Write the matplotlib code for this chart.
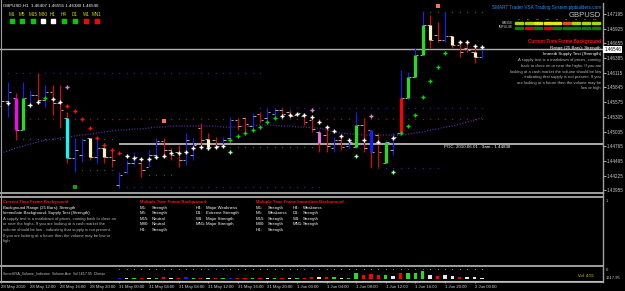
import numpy as np
import matplotlib.pyplot as plt
from matplotlib.patches import Rectangle

plt.rcParams['font.family'] = ['Liberation Sans', 'DejaVu Sans']

# ---- price data (GBPUSD H1, 28 May 08:00 .. 2 Jun 01:00) ----
opens = [1.45503, 1.45595, 1.45650, 1.45063, 1.45522, 1.45705, 1.45614, 1.45761, 1.45559, 1.45283,
         1.44548, 1.44603, 1.44916, 1.44567, 1.44732, 1.44567, 1.44052, 1.44291, 1.44456, 1.44456,
         1.44383, 1.44603, 1.44861, 1.44695, 1.44658, 1.44512, 1.44603, 1.45099, 1.44897, 1.44879,
         1.44805, 1.44916, 1.45246, 1.45283, 1.45136, 1.45356, 1.45283, 1.45356, 1.45430, 1.45393,
         1.45338, 1.45320, 1.45246, 1.45026, 1.44971, 1.44732, 1.44879, 1.44769, 1.44750, 1.45154,
         1.45063, 1.44971, 1.44456, 1.44695, 1.45008, 1.45650, 1.46036, 1.46440, 1.46991, 1.46807,
         1.46716, 1.46789, 1.46624, 1.46569, 1.46495, 1.46407]
highs = [1.45614, 1.45944, 1.45742, 1.45944, 1.45797, 1.46110, 1.45889, 1.45889, 1.45889, 1.45393,
         1.44916, 1.44916, 1.44916, 1.44916, 1.44824, 1.44732, 1.44291, 1.44512, 1.44658, 1.44475,
         1.44695, 1.44916, 1.44916, 1.44732, 1.44787, 1.45008, 1.44916, 1.45191, 1.45008, 1.44934,
         1.44934, 1.45301, 1.45283, 1.45301, 1.45375, 1.45393, 1.45467, 1.45467, 1.45467, 1.45430,
         1.45375, 1.45338, 1.45301, 1.45063, 1.45099, 1.44934, 1.44934, 1.44879, 1.45393, 1.45283,
         1.45063, 1.45008, 1.44879, 1.45008, 1.46165, 1.46128, 1.46569, 1.47230, 1.47175, 1.47046,
         1.47230, 1.46789, 1.46679, 1.46679, 1.46587, 1.46555]
lows = [1.45485, 1.45301, 1.44879, 1.45063, 1.45467, 1.45577, 1.45485, 1.45338, 1.45099, 1.44456,
        1.44291, 1.44475, 1.44512, 1.44456, 1.44456, 1.44383, 1.43997, 1.44273, 1.44420, 1.44199,
        1.44383, 1.44548, 1.44567, 1.44512, 1.44383, 1.44420, 1.44512, 1.44787, 1.44695, 1.44732,
        1.44787, 1.44879, 1.45063, 1.45008, 1.45063, 1.45191, 1.45246, 1.45301, 1.45301, 1.45283,
        1.45338, 1.45154, 1.45026, 1.44658, 1.44658, 1.44658, 1.44695, 1.44732, 1.44732, 1.44658,
        1.44365, 1.44383, 1.44456, 1.44603, 1.45008, 1.45614, 1.46036, 1.46440, 1.46569, 1.46679,
        1.46679, 1.46569, 1.46403, 1.46495, 1.46293, 1.46380]
closes = [1.45595, 1.45761, 1.45063, 1.45650, 1.45705, 1.45614, 1.45761, 1.45559, 1.45430, 1.44548,
          1.44695, 1.44879, 1.44567, 1.44732, 1.44567, 1.44512, 1.44236, 1.44456, 1.44567, 1.44328,
          1.44603, 1.44861, 1.44695, 1.44603, 1.44512, 1.44879, 1.44787, 1.44879, 1.44750, 1.44769,
          1.44879, 1.45246, 1.45136, 1.45173, 1.45320, 1.45246, 1.45393, 1.45430, 1.45356, 1.45320,
          1.45375, 1.45210, 1.45081, 1.44824, 1.44769, 1.44879, 1.44750, 1.44842, 1.45154, 1.44732,
          1.44658, 1.44658, 1.44842, 1.44934, 1.45650, 1.46036, 1.46440, 1.46991, 1.46716, 1.46716,
          1.46789, 1.46624, 1.46495, 1.46532, 1.46403, 1.46546]

# bars painted with a VSA signal body
body_bars = [2, 3, 9, 12, 14, 28, 43, 48, 50, 52, 54, 55, 56, 57, 58, 61, 64]
body_kind = ['magenta', 'green', 'cyan', 'cream', 'cream', 'cream', 'pink', 'green', 'blue',
             'green', 'red', 'green', 'green', 'green', 'cream', 'cream', 'cream']

# moving average
ma = [1.44640, 1.44677, 1.44732, 1.44769, 1.44805, 1.44842, 1.44879, 1.44897, 1.44916, 1.44934,
      1.44952, 1.44971, 1.44989, 1.45008, 1.45026, 1.45044, 1.45063, 1.45063, 1.45081, 1.45081,
      1.45099, 1.45118, 1.45118, 1.45136, 1.45136, 1.45136, 1.45136, 1.45136, 1.45136, 1.45136,
      1.45118, 1.45118, 1.45118, 1.45136, 1.45136, 1.45154, 1.45154, 1.45154, 1.45136, 1.45136,
      1.45118, 1.45118, 1.45099, 1.45099, 1.45063, 1.45026, 1.45008, 1.44989, 1.44989, 1.44971,
      1.44971, 1.44971, 1.44971, 1.44971, 1.44971, 1.44989, 1.45008, 1.45026, 1.45063, 1.45081,
      1.45118, 1.45136, 1.45173, 1.45210, 1.45246, 1.45283]

# signal markers (bar index, price)
white_i = [1, 4, 5, 7, 8, 17, 18, 19, 20, 21, 22, 23, 24, 25, 26, 27, 28, 29, 30,
           38, 39, 40, 41, 42, 43, 44, 45, 46, 47, 49, 51, 53, 62, 63, 64, 65]
white_p = [1.45559, 1.45522, 1.45577, 1.45632, 1.45577, 1.44585, 1.44548, 1.44530, 1.44530,
           1.44567, 1.44585, 1.44640, 1.44640, 1.44658, 1.44732, 1.44750, 1.44732, 1.44750,
           1.44769, 1.45320, 1.45338, 1.45356, 1.45338, 1.45301, 1.45210, 1.45118, 1.45044,
           1.44952, 1.44879, 1.44879, 1.44842, 1.44916, 1.46679, 1.46679, 1.46605, 1.46587]
red_i = [9, 10, 11, 12, 13, 14, 15, 16]
red_p = [1.45503, 1.45412, 1.45265, 1.45099, 1.44916, 1.44787, 1.44695, 1.44640]
green_i = [6, 31, 32, 33, 34, 35, 36, 37, 54, 55, 56, 57, 58, 59, 60]
green_p = [1.45650, 1.44879, 1.44952, 1.45008, 1.45063, 1.45118, 1.45210, 1.45283,
           1.45008, 1.45136, 1.45338, 1.45669, 1.45963, 1.46220, 1.46477]
pink_i = [9, 42, 50]
pink_p = [1.45852, 1.45430, 1.45320]
lime_i = [31, 48, 53]
lime_p = [1.44658, 1.44585, 1.44291]
square_i = [59, 22, 10]
square_p = [1.47340, 1.45228, 1.44016]
square_kind = ['salmon', 'salmon', 'dkgreen']

# dotted support / resistance levels
level_from = [1, 4, 35, 2, 31, 10, 20, 16, 51, 57]
level_to = [35, 65, 65, 15, 48, 15, 23, 43, 59, 65]
level_price = [1.46110, 1.45265, 1.45467, 1.44897, 1.44750, 1.44328, 1.44236, 1.44016, 1.44365, 1.47230]
level_kind = ['blue', 'red', 'blue', 'green', 'green', 'green', 'green', 'blue', 'blue', 'green']

# volume strip (relative height, 0..1) and its VSA colour
volume = [0.05, 0.05, 0.08, 0.06, 0.05, 0.06, 0.05, 0.05, 0.06, 0.10,
          0.08, 0.06, 0.08, 0.06, 0.06, 0.05, 0.08, 0.08, 0.06, 0.08,
          0.08, 0.10, 0.12, 0.08, 0.10, 0.12, 0.08, 0.08, 0.10, 0.08,
          0.08, 0.10, 0.08, 0.08, 0.10, 0.08, 0.10, 0.08, 0.08, 0.08,
          0.08, 0.10, 0.12, 0.12, 0.15, 0.12, 0.10, 0.10, 0.45, 0.30,
          0.35, 0.25, 0.30, 0.20, 0.40, 0.40, 0.45, 0.55, 0.30, 0.18,
          0.25, 0.18, 0.12, 0.12, 0.15, 0.10]
vol_kind = ['green', 'green', 'red', 'white', 'green', 'red', 'white', 'red', 'red', 'blue',
            'white', 'green', 'red', 'white', 'red', 'red', 'blue', 'white', 'green', 'red',
            'white', 'green', 'red', 'white', 'red', 'blue', 'green', 'red', 'white', 'red',
            'green', 'blue', 'red', 'red', 'green', 'red', 'white', 'green', 'red', 'white',
            'green', 'red', 'red', 'white', 'red', 'green', 'white', 'green', 'green', 'red',
            'red', 'red', 'green', 'white', 'red', 'green', 'green', 'green', 'white', 'red',
            'white', 'white', 'red', 'white', 'white', 'white']

bid = 1.46546
poc = 1.44805
price_ticks = [1.47195, 1.46925, 1.46655, 1.46385, 1.46115, 1.45845, 1.45575, 1.45305,
               1.45035, 1.44765, 1.44495, 1.44225, 1.43955]
date_ticks = list(range(0, 65, 4))
date_labels = ['28 May 2010', '28 May 12:00', '28 May 16:00', '28 May 20:00', '31 May 00:00',
               '31 May 04:00', '31 May 08:00', '31 May 12:00', '31 May 16:00', '31 May 20:00',
               '1 Jun 00:00', '1 Jun 04:00', '1 Jun 08:00', '1 Jun 12:00', '1 Jun 16:00',
               '1 Jun 20:00', '2 Jun 00:00']

tf_names = ['M1', 'M5', 'M15', 'M30', 'H1', 'H4', 'D1', 'W1', 'MN1']
tf_state = ['up', 'up', 'up', 'flat', 'flat', 'up', 'up', 'down', 'down']
range_cols = ['#a8d800', '#a8d800', '#e8e800', '#e8e800', '#e8e800', '#e05020', '#a8d800', '#a8d800', '#a8d800']
impulse_cols = ['#008000', '#e00000', '#008000', '#e00000', '#008000', '#008000', '#008000', '#008000', '#008000']

colors = {'magenta': '#ff00ff', 'green': '#22dd22', 'cyan': '#00ffff', 'cream': '#f5f0c8',
          'pink': '#dd77dd', 'blue': '#1a1aff', 'red': '#ff0000', 'salmon': '#ff6f50',
          'dkgreen': '#00aa00', 'white': '#e8e8e8'}
level_colors = {'blue': '#2020a0', 'red': '#a01010', 'green': '#107010'}
state_colors = {'up': '#00cc00', 'flat': '#ffffff', 'down': '#ff0000'}

W, H = 625, 291
fig = plt.figure(figsize=(W / 100, H / 100), dpi=100, facecolor='black')


def fx(px):
    return px / W


def fy(py):
    return 1 - py / H


# ---------------- main price window ----------------
ax = fig.add_axes([0, fy(193), fx(603), fy(3) - fy(193)], facecolor='black')
ax.set_xlim(-0.12, 81.36)
ax.set_ylim(1.43906, 1.47395)
x = np.arange(len(opens))
o = np.array(opens); c = np.array(closes)
wick_c = np.where(c >= o, '#1a1aff', '#ee0000')

ax.axhline(bid, color='#b0b0b0', lw=1.0, zorder=1)
ax.hlines(poc, 16, 81.4, color='#b8b8b8', lw=1.3, zorder=1)
ax.text(59.9, poc - 0.0002, 'POC: 2010.06.01 - 9am - 1.44838', color='white',
        fontsize=3.2, va='top', ha='left')

for a, b, p, k in zip(level_from, level_to, level_price, level_kind):
    xs = np.arange(a, b + 1)
    ax.plot(xs, [p] * len(xs), ls='none', marker='s', ms=0.9, mew=0, color=level_colors[k], zorder=2)

ax.plot(x, ma, color='#6a2fb0', lw=0.8, ls=(0, (1, 1.5)), zorder=2)

ax.vlines(x, lows, highs, colors=wick_c, lw=0.8, zorder=3)
ax.hlines(opens, x - 0.42, x - 0.08, colors='#b0b0b0', lw=0.7, zorder=3)
ax.hlines(closes, x + 0.08, x + 0.42, colors='#b0b0b0', lw=0.7, zorder=3)
for i, k in zip(body_bars, body_kind):
    ax.vlines(i, min(opens[i], closes[i]), max(opens[i], closes[i]), colors=colors[k], lw=2.3, zorder=4)

mk = dict(ls='none', marker='+', ms=3.2, mew=1.0, zorder=5)
ax.plot(white_i, white_p, color='white', **mk)
ax.plot(red_i, red_p, color='#ff1010', **mk)
ax.plot(green_i, green_p, color='#00dd00', **mk)
ax.plot(pink_i, pink_p, color='#e080e0', **mk)
ax.plot(lime_i, lime_p, color='#a0ffa0', **mk)
for i, p, k in zip(square_i, square_p, square_kind):
    ax.plot(i, p, ls='none', marker='s', ms=2.6, mew=0, color=colors[k], zorder=5)

for s in ['left', 'top', 'bottom']:
    ax.spines[s].set_visible(False)
ax.spines['right'].set_color('#a0a0a0')
ax.spines['right'].set_linewidth(1.0)
ax.set_xticks([])
ax.yaxis.tick_right()
ax.set_yticks(price_ticks)
ax.set_yticklabels(['%.5f' % t for t in price_ticks])
ax.tick_params(axis='y', colors='#c8c8c8', labelsize=3.3, length=2, width=0.6, pad=1)
ax.text(1.002, bid, '%.5f' % bid, transform=ax.get_yaxis_transform(), fontsize=3.3, color='black',
        va='center', ha='left', clip_on=False, zorder=6,
        bbox=dict(facecolor='white', edgecolor='none', boxstyle='square,pad=0.25'))

# ---------------- volume strip ----------------
vax = fig.add_axes([0, fy(281), fx(603), fy(267) - fy(281)], facecolor='black')
vax.set_xlim(-0.12, 81.36)
vax.set_ylim(0, 1)
vax.set_yticks([])
vax.bar(x[16:], volume[16:], width=0.45, bottom=0.15,
        color=[colors[k] for k in vol_kind[16:]], zorder=2)
vax.plot(x[16:], [0.85] * (len(x) - 16), ls='none', marker='s', ms=0.7, mew=0, color='#20a0a0')
for s in ['left', 'top', 'right']:
    vax.spines[s].set_visible(False)
vax.spines['bottom'].set_color('#a0a0a0')
vax.set_xticks(date_ticks)
vax.set_xticklabels(date_labels, ha='left')
vax.tick_params(axis='x', colors='#d0d0d0', labelsize=3.1, length=1.5, width=0.5, pad=1.2)
vax.text(0.3, 0.55, 'SmartVSA_Volume_Indicator  Volume Ave  Vol 1617.95  Climax',
         color='#c0c0c0', fontsize=2.6, va='center', zorder=3)
vax.text(78.0, 0.35, 'Vol  4.55', color='#e0d000', fontsize=3.0, va='center', zorder=3)

# ---------------- overlay: frame + info panels ----------------
ov = fig.add_axes([0, 0, 1, 1])
ov.set_xlim(0, W)
ov.set_ylim(H, 0)
ov.axis('off')
ov.patch.set_alpha(0)

for yy in (193, 197, 266, 282):
    ov.plot([0, 603], [yy, yy], color='#c8c8c8', lw=1.1)
ov.plot([1, 1], [0, 282], color='#a0a0a0', lw=0.8)
ov.plot([603, 603], [193, 282], color='#a0a0a0', lw=1.0)
ov.text(606, 201, '1', color='#c8c8c8', fontsize=3.0, va='center')
ov.text(606, 270, '0', color='#c8c8c8', fontsize=3.0, va='center')
ov.text(606, 278, '1617.95', color='#c8c8c8', fontsize=3.0, va='center')

# top-left header
ov.text(3, 6, 'GBPUSD,H1  1.46407 1.46555 1.46380 1.46546', color='white', fontsize=3.2, va='center')
tl_x = [12, 22, 33, 43, 53, 64, 75, 86, 97]
for xx, n, st in zip(tl_x, tf_names, tf_state):
    ov.text(xx, 14.5, n, color='#d8d800', fontsize=3.3, ha='center', va='center')
    ov.add_patch(Rectangle((xx - 2, 18.5), 4, 4, color=state_colors[st]))

# top-right panel
ov.text(601, 8, 'SMART Trader VSA Trading System pipbuilders.com', color='#2090ff',
        fontsize=3.3, ha='right', va='center')
ov.text(601, 15.5, 'GBPUSD', color='#c8c8c8', fontsize=5.5, ha='right', va='center')
tr_x = [519, 528.5, 538, 547.5, 557, 566.5, 576, 585.5, 595.5]
for xx, n, rc, ic in zip(tr_x, tf_names, range_cols, impulse_cols):
    ov.text(xx, 19, n, color='#c8c8c8', fontsize=1.6, ha='center', va='center')
    ov.add_patch(Rectangle((xx - 4, 21.5), 8, 2, color=rc))
    ov.add_patch(Rectangle((xx - 4, 26.5), 8, 2, color=ic))
ov.text(513, 22.5, 'RANGE', color='#c8c8c8', fontsize=2.3, ha='right', va='center')
ov.text(513, 27.5, 'IMPULSE', color='#c8c8c8', fontsize=2.3, ha='right', va='center')

ov.text(601, 42, 'Current Time Frame Background', color='#ff1010', fontsize=3.3,
        fontweight='bold', ha='right', va='center')
ov.text(601, 48, 'Range (25 Bars): Strength', color='white', fontsize=3.2, ha='right', va='center')
ov.text(601, 54.5, 'Immedi Supply Test (Strength)', color='white', fontsize=3.2, ha='right', va='center')
tr_para = ['A supply test is a markdown of prices, coming',
           'back to close on or near the highs. If you are',
           'looking at a cash market the volume should be low',
           '- indicating that supply is not present. If you',
           'are looking at a future then the volume may be',
           'low or high']
for k, line in enumerate(tr_para):
    ov.text(601, 60.5 + 5.6 * k, line, color='#b8b8b8', fontsize=3.0, ha='right', va='center')

# bottom panel
row_y = [202, 207.6, 213.2, 218.8, 224.4, 230, 235.6, 241.2]
ov.text(3, row_y[0], 'Current Time Frame Background', color='#ff1010', fontsize=3.1,
        fontweight='bold', va='center')
ov.text(3, row_y[1], 'Background Range (25 Bars): Strength', color='white', fontsize=3.1, va='center')
ov.text(3, row_y[2], 'Immediate Background: Supply Test (Strength)', color='white', fontsize=3.1, va='center')
bl_para = ['A supply test is a markdown of prices, coming back to close on',
           'or near the highs. If you are looking at a cash market the',
           'volume should be low - indicating that supply is not present.',
           'If you are looking at a future then the volume may be low or',
           'high']
for k, line in enumerate(bl_para):
    ov.text(3, row_y[3 + k], line, color='#b8b8b8', fontsize=3.0, va='center')

mtf_bg = ['Strength', 'Strength', 'Neutral', 'Neutral', 'Strength',
          'Major Weakness', 'Extreme Strength', 'Major Strength', 'Major Strength']
mtf_im = ['Strength', 'Weakness', 'Strength', 'Strength', 'Strength',
          'Weakness', 'Strength', 'Strength', 'Strength']
for x0, title, vals in [(140, 'Multiple Time Frame Background', mtf_bg),
                        (256, 'Multiple Time Frame Immediate Background', mtf_im)]:
    ov.text(x0, row_y[0], title, color='#ff1010', fontsize=3.1, fontweight='bold', va='center')
    for k in range(9):
        col, row = (0, k) if k < 5 else (1, k - 5)
        xx = x0 + col * (56 if x0 == 140 else 37)
        ov.text(xx, row_y[1 + row], tf_names[k] + ':', color='white', fontsize=3.1, va='center')
        ov.text(xx + (12 if k < 5 else 10), row_y[1 + row], vals[k], color='white', fontsize=3.1, va='center')

fig.savefig('out.png', dpi=100, facecolor='black')
